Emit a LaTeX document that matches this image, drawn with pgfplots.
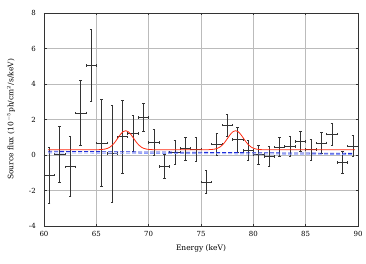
\documentclass[border=0pt]{standalone}
\usepackage{pgfplots}
\pgfplotsset{compat=1.18}
\usepackage{fontspec}
\setmainfont{DejaVu Serif}
\definecolor{errc}{HTML}{333333}
\definecolor{gridc}{HTML}{BBBBBB}
\definecolor{redl}{HTML}{FF2A10}
\definecolor{bluel}{HTML}{2030D8}
\definecolor{lbluel}{HTML}{8C9CFF}
\begin{document}
\begin{tikzpicture}
\path[use as bounding box] (-44pt,-37pt) rectangle (322pt,226pt);
\begin{axis}[
  scale only axis, width=314pt, height=213pt,
  xmin=60, xmax=90, ymin=-4, ymax=8,
  xtick={60,65,...,90}, ytick={-4,-2,...,8},
  grid=major, major grid style={gridc, line width=0.6pt},
  axis line style={errc, line width=0.6pt},
  tick align=inside, major tick length=2.5pt,
  tick style={errc, line width=0.5pt},
  font=\fontsize{7pt}{8pt}\selectfont,
  /pgf/number format/assume math mode=true,
  yticklabel style={anchor=east, inner sep=0pt, xshift=-8pt},
  xticklabel style={anchor=center, inner sep=0pt, yshift=-7.5pt},
  xlabel={Energy (keV)},
  ylabel={Source flux (10$^{-5}$ph/cm$^{2}$/s/keV)},
  every axis x label/.style={at={(axis description cs:0.5,0)}, anchor=center, yshift=-22pt, font=\fontsize{7.5pt}{8pt}\selectfont},
  every axis y label/.style={at={(axis description cs:0,0.5)}, rotate=90, anchor=center, yshift=33pt, font=\fontsize{7.5pt}{8pt}\selectfont},
  clip=false,
]
\addplot[draw=none, mark=none,
  error bars/.cd, x dir=both, x explicit, y dir=both, y explicit,
  error bar style={errc, line width=0.5pt, solid},
  error mark options={rotate=90, mark size=1.2pt, errc, line width=0.5pt}]
  table[x=x, y=y, x error=ex, y error=ey] {
x y ex ey
60.5 -1.13 0.5 1.56
61.5 0.05 0.5 1.58
62.5 -0.66 0.5 1.69
63.5 2.38 0.5 1.84
64.5 5.04 0.5 2.04
65.5 0.69 0.5 2.46
66.5 0.08 0.5 2.72
67.5 1.03 0.5 2.03
68.5 1.21 0.5 1.02
69.5 2.12 0.5 0.81
70.5 0.71 0.5 0.72
71.5 -0.64 0.5 0.67
72.5 0.15 0.5 0.66
73.5 0.37 0.5 0.65
74.5 0.33 0.5 0.67
75.5 -1.52 0.5 0.64
76.5 0.62 0.5 0.61
77.5 1.69 0.5 0.62
78.5 0.88 0.5 0.71
79.5 0.26 0.5 0.55
80.5 0.02 0.5 0.53
81.5 -0.09 0.5 0.56
82.5 0.46 0.5 0.55
83.5 0.48 0.5 0.55
84.5 0.75 0.5 0.56
85.5 0.30 0.5 0.58
86.5 0.68 0.5 0.59
87.5 1.17 0.5 0.61
88.5 -0.42 0.5 0.61
89.5 0.52 0.5 0.61
};
\addplot[lbluel, line width=0.8pt, dash pattern=on 4pt off 2pt] coordinates {(60.4,0.12) (89.5,0.03)};
\addplot[bluel, line width=0.8pt, dash pattern=on 4pt off 2pt] coordinates {(60.4,0.21) (89.5,0.09)};
\addplot[redl, line width=0.8pt, smooth] coordinates {
(60.4,0.30) (64.8,0.30) (65.3,0.304) (65.55,0.312) (65.8,0.331) (66.05,0.370)
(66.3,0.444) (66.55,0.566) (66.8,0.740) (67.05,0.949) (67.3,1.157) (67.55,1.312)
(67.8,1.37) (68.05,1.312) (68.3,1.157) (68.55,0.949) (68.8,0.740) (69.05,0.566)
(69.3,0.444) (69.55,0.370) (69.8,0.331) (70.05,0.312) (70.3,0.304) (70.8,0.30)
(75.3,0.30) (75.8,0.304) (76.05,0.312) (76.3,0.331) (76.55,0.370)
(76.8,0.444) (77.05,0.566) (77.3,0.740) (77.55,0.949) (77.8,1.157) (78.05,1.312)
(78.3,1.37) (78.55,1.312) (78.8,1.157) (79.05,0.949) (79.3,0.740) (79.55,0.566)
(79.8,0.444) (80.05,0.370) (80.3,0.331) (80.55,0.312) (80.8,0.304) (81.3,0.30)
(89.7,0.30)};
\end{axis}
\end{tikzpicture}
\end{document}
